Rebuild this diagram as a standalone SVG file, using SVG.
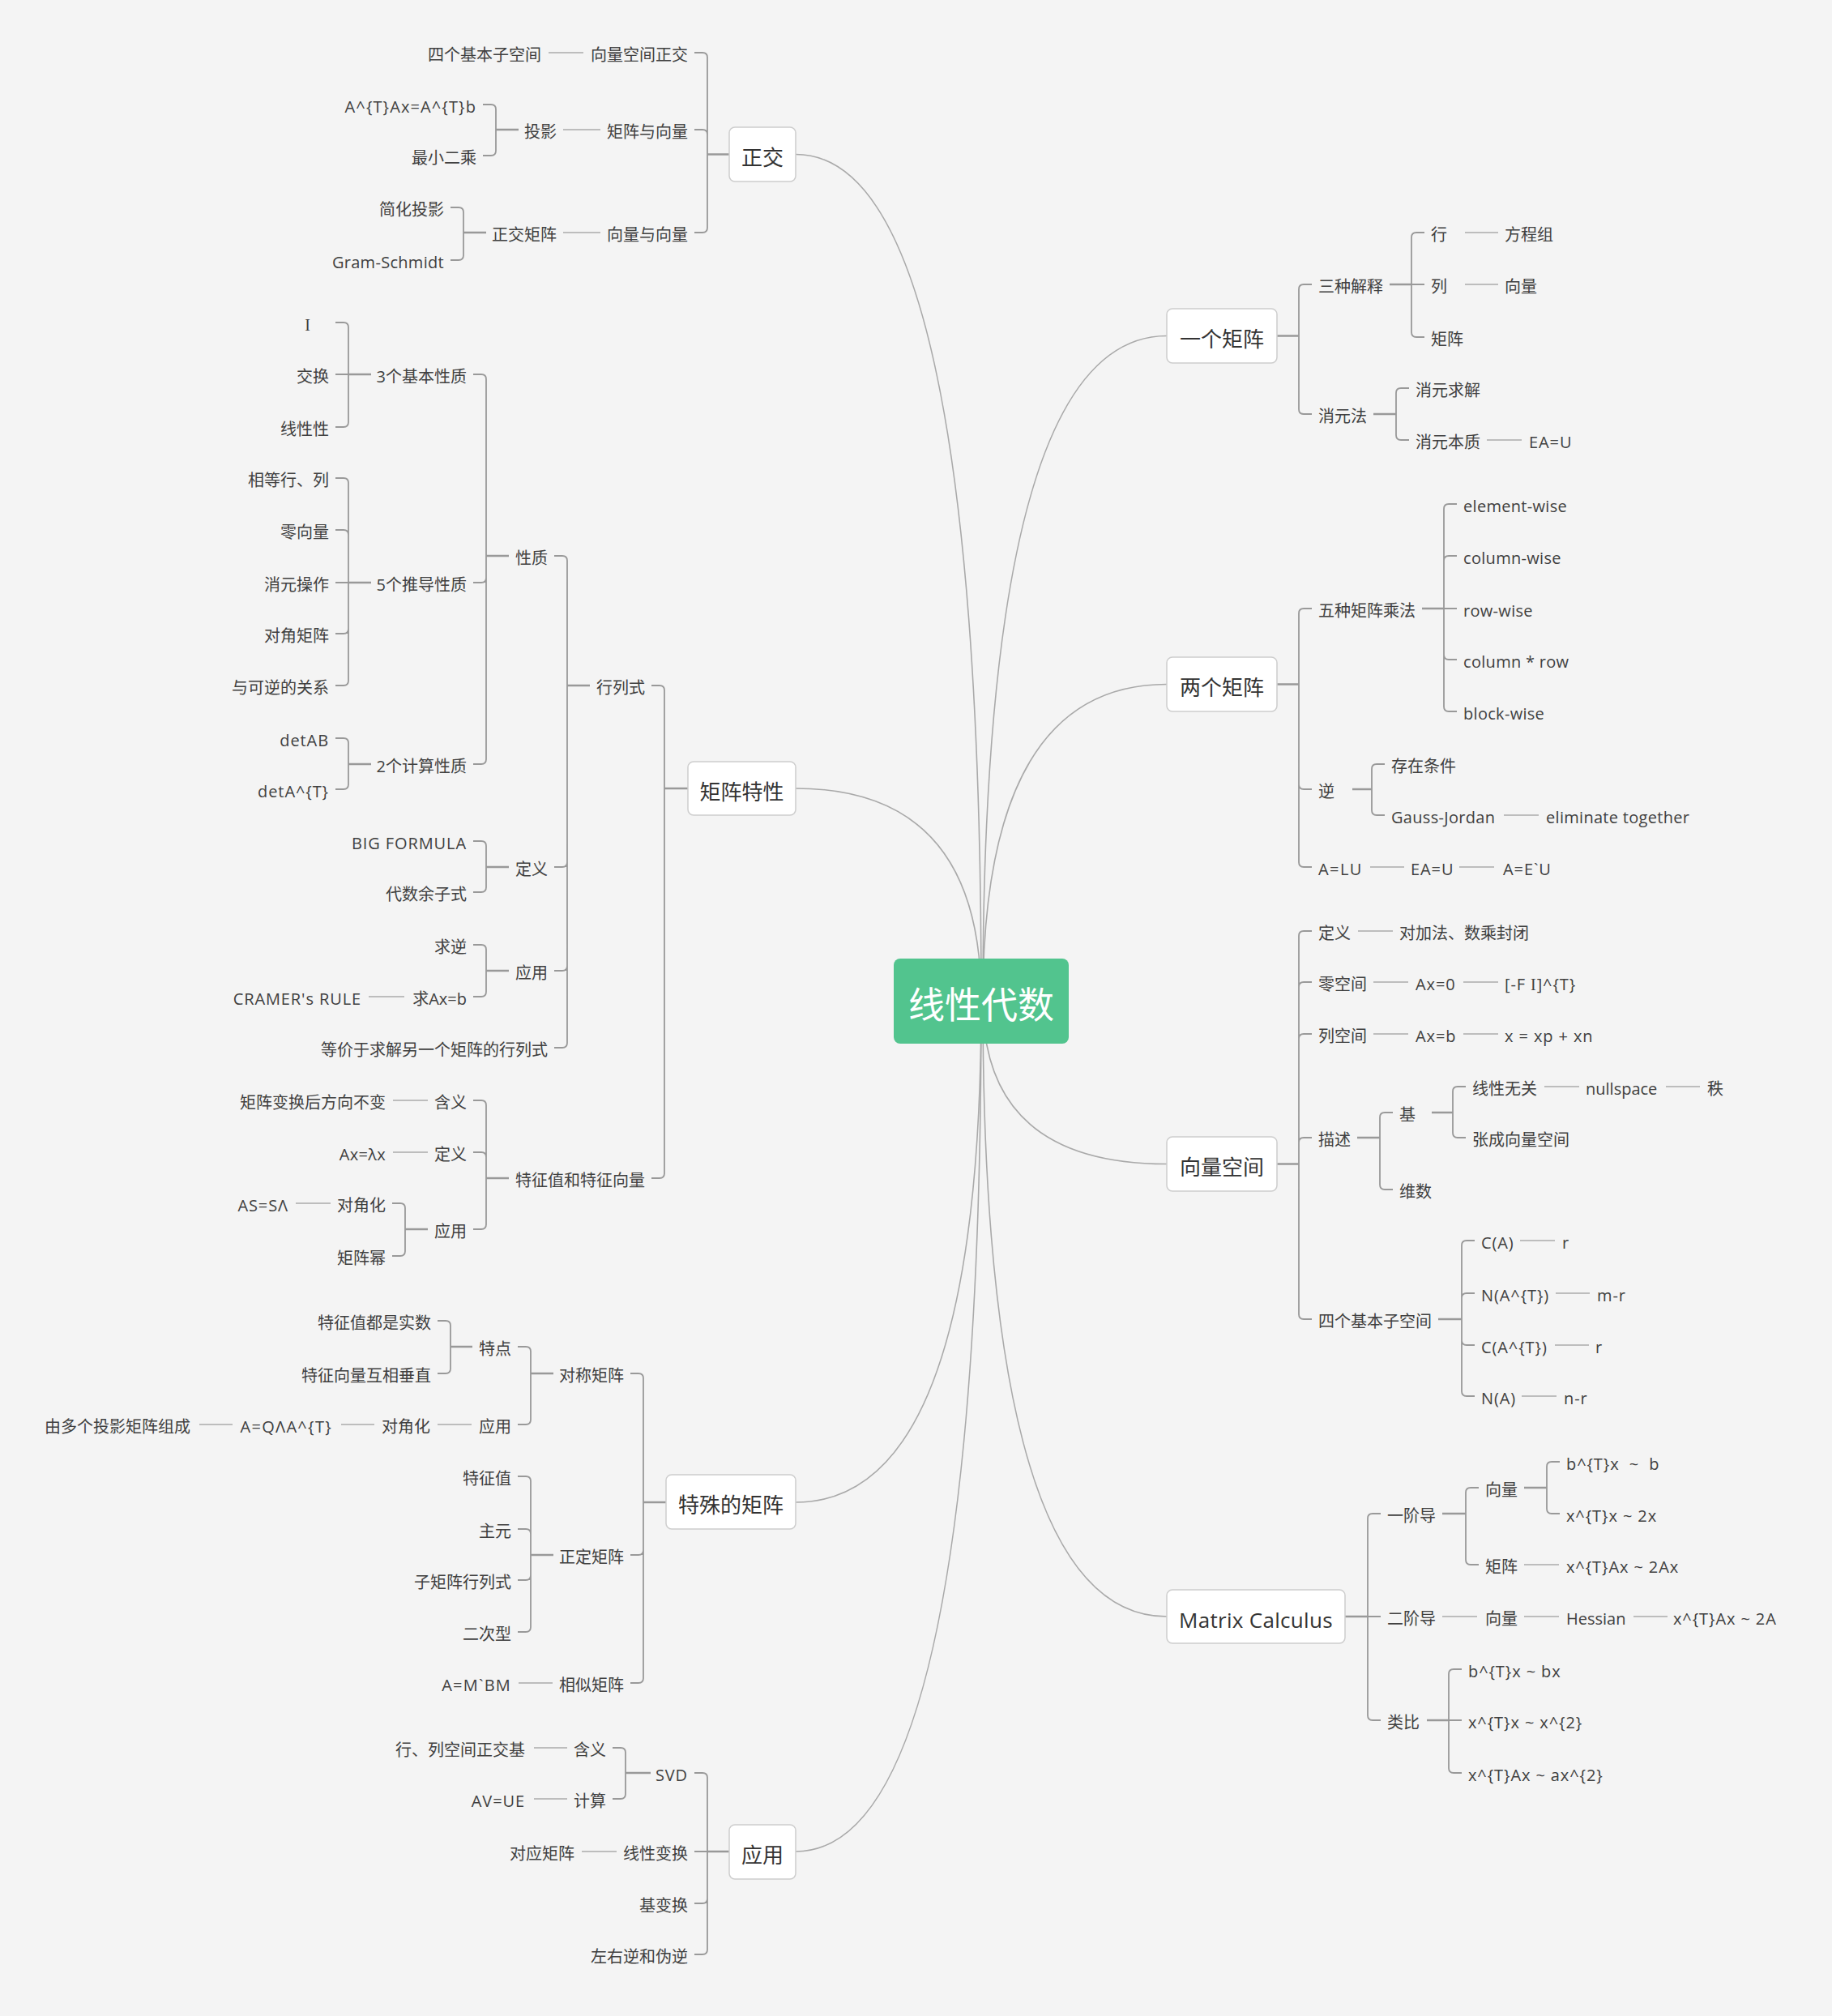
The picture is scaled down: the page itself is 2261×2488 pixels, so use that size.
<svg xmlns="http://www.w3.org/2000/svg" width="2261" height="2488" viewBox="0 0 2261 2488">
<style>
text{font-family:'Open Sans','Noto Sans CJK SC',sans-serif;font-size:20px;fill:#404040}
.l{text-anchor:end}
.f{letter-spacing:0.9px}
.w{letter-spacing:0.3px}
.sf{font-family:'Liberation Serif',serif}
.m{font-size:26px;fill:#333;text-anchor:middle}
.rt{font-family:'Noto Sans CJK SC',sans-serif;font-size:45px;fill:#fff;text-anchor:middle}
.box{fill:#fff;stroke:#cdcdcd;stroke-width:1.5}
.c{fill:none;stroke:#a9a9a9;stroke-width:1.6}
.b{fill:none;stroke:#999;stroke-width:1.8}
.t{fill:none;stroke:#999;stroke-width:2.6}
.s{fill:none;stroke:#aaa;stroke-width:1.5}
</style>
<rect width="2261" height="2488" fill="#f4f4f4"/>
<g id="connectors">
<path class="c" d="M1211 1235Q1211 190.5 982 190.5"/>
<path class="c" d="M1211 1235Q1211 973 982 973"/>
<path class="c" d="M1211 1235Q1211 1854 982 1854"/>
<path class="c" d="M1211 1235Q1211 2285 982 2285"/>
<path class="c" d="M1213 1235Q1213 414.5 1440 414.5"/>
<path class="c" d="M1213 1235Q1213 844.5 1440 844.5"/>
<path class="c" d="M1213 1235Q1213 1436.5 1440 1436.5"/>
<path class="c" d="M1213 1235Q1213 1995 1440 1995"/>
<path class="t" d="M900 190.5H873M640 160H612M600 287H572M849 973H820M728 846H700M628 686H600M458 462H430M458 719H430M458 943H430M628 1070H600M628 1198H600M628 1454H600M528 1517H500M822 1854H794M683 1695H655M583 1662H556M683 1919H655M900 2285H873M803 2188H772"/>
<path class="t" d="M1576 414.5H1603M1715 351H1742M1695 511H1723M1576 844.5H1603M1755 751H1782M1669 974H1693M1576 1436.5H1603M1675 1404H1703M1767 1373H1793M1775 1628H1804M1660 1995H1688M1780 1868H1809M1881 1836H1909M1761 2123H1788"/>
<path class="b" d="M873 190.5V71Q873 65 867 65H857M873 190.5V166Q873 160 867 160H857M873 190.5V281Q873 287 867 287H857
M612 160V135Q612 129 606 129H596M612 160V186Q612 192 606 192H596
M572 287V262Q572 256 566 256H556M572 287V315Q572 321 566 321H556
M820 973V852Q820 846 814 846H804M820 973V1448Q820 1454 814 1454H804
M700 846V692Q700 686 694 686H684M700 846V1064Q700 1070 694 1070H684M700 846V1192Q700 1198 694 1198H684M700 846V1287Q700 1293 694 1293H684
M600 686V468Q600 462 594 462H584M600 686V713Q600 719 594 719H584M600 686V937Q600 943 594 943H584
M430 462V404Q430 398 424 398H414M430 462H414M430 462V521Q430 527 424 527H414
M430 719V596Q430 590 424 590H414M430 719V660Q430 654 424 654H414M430 719H414M430 719V776Q430 782 424 782H414M430 719V840Q430 846 424 846H414
M430 943V917Q430 911 424 911H414M430 943V968Q430 974 424 974H414
M600 1070V1044Q600 1038 594 1038H584M600 1070V1095Q600 1101 594 1101H584
M600 1198V1172Q600 1166 594 1166H584M600 1198V1224Q600 1230 594 1230H584
M600 1454V1364Q600 1358 594 1358H584M600 1454V1428Q600 1422 594 1422H584M600 1454V1511Q600 1517 594 1517H584
M500 1517V1491Q500 1485 494 1485H484M500 1517V1544Q500 1550 494 1550H484
M794 1854V1701Q794 1695 788 1695H778M794 1854V1913Q794 1919 788 1919H778M794 1854V2071Q794 2077 788 2077H778
M655 1695V1668Q655 1662 649 1662H639M655 1695V1752Q655 1758 649 1758H639
M556 1662V1636Q556 1630 550 1630H540M556 1662V1689Q556 1695 550 1695H540
M655 1919V1828Q655 1822 649 1822H639M655 1919V1893Q655 1887 649 1887H639M655 1919V1944Q655 1950 649 1950H639M655 1919V2008Q655 2014 649 2014H639
M873 2285V2194Q873 2188 867 2188H857M873 2285H857M873 2285V2343Q873 2349 867 2349H857M873 2285V2406Q873 2412 867 2412H857
M772 2188V2163Q772 2157 766 2157H756M772 2188V2214Q772 2220 766 2220H756"/>
<path class="b" d="M1603 414.5V357Q1603 351 1609 351H1619M1603 414.5V505Q1603 511 1609 511H1619
M1742 351V293Q1742 287 1748 287H1758M1742 351H1758M1742 351V410Q1742 416 1748 416H1758
M1723 511V485Q1723 479 1729 479H1739M1723 511V537Q1723 543 1729 543H1739
M1603 844.5V757Q1603 751 1609 751H1619M1603 844.5V968Q1603 974 1609 974H1619M1603 844.5V1064Q1603 1070 1609 1070H1619
M1782 751V628Q1782 622 1788 622H1798M1782 751V692Q1782 686 1788 686H1798M1782 751H1798M1782 751V808Q1782 814 1788 814H1798M1782 751V872Q1782 878 1788 878H1798
M1693 974V949Q1693 943 1699 943H1709M1693 974V1000Q1693 1006 1699 1006H1709
M1603 1436.5V1155Q1603 1149 1609 1149H1619M1603 1436.5V1218Q1603 1212 1609 1212H1619M1603 1436.5V1282Q1603 1276 1609 1276H1619M1603 1436.5V1410Q1603 1404 1609 1404H1619M1603 1436.5V1622Q1603 1628 1609 1628H1619
M1703 1404V1379Q1703 1373 1709 1373H1719M1703 1404V1462Q1703 1468 1709 1468H1719
M1793 1373V1347Q1793 1341 1799 1341H1809M1793 1373V1398Q1793 1404 1799 1404H1809
M1804 1628V1537Q1804 1531 1810 1531H1820M1804 1628V1602Q1804 1596 1810 1596H1820M1804 1628V1654Q1804 1660 1810 1660H1820M1804 1628V1717Q1804 1723 1810 1723H1820
M1688 1995V1874Q1688 1868 1694 1868H1704M1688 1995H1704M1688 1995V2117Q1688 2123 1694 2123H1704
M1809 1868V1842Q1809 1836 1815 1836H1825M1809 1868V1925Q1809 1931 1815 1931H1825
M1909 1836V1810Q1909 1804 1915 1804H1925M1909 1836V1862Q1909 1868 1915 1868H1925
M1788 2123V2066Q1788 2060 1794 2060H1804M1788 2123H1804M1788 2123V2182Q1788 2188 1794 2188H1804"/>
<path class="s" d="M677 65H720M741 160H695M741 287H695M499 1230H455M528 1358H485M528 1422H485M408 1485H365M582 1758H540M462 1758H421M287 1758H246M682 2077H640M700 2157H659M700 2220H659M761 2285H718"/>
<path class="s" d="M1808 287H1849M1808 351H1849M1835 543H1878M1856 1006H1899M1691 1070H1733M1801 1070H1844M1676 1149H1719M1695 1212H1738M1806 1212H1849M1695 1276H1738M1806 1276H1849M1906 1341H1949M2056 1341H2098M1876 1531H1919M1920 1596H1962M1919 1660H1961M1878 1723H1921M1881 1931H1924M1780 1995H1823M1881 1995H1924M2016 1995H2058"/>
</g>
<g id="root"><rect x="1103" y="1183" width="216" height="105" rx="8" fill="#52c48e"/><text class="rt" x="1211" y="1257">线性代数</text></g>
<g id="main-zhengjiao"><rect class="box" x="900" y="157" width="82" height="67" rx="7"/><text class="m" x="941" y="204">正交</text></g>
<g id="main-juzhentexing"><rect class="box" x="849" y="940" width="133" height="66" rx="7"/><text class="m" x="915.5" y="986.5">矩阵特性</text></g>
<g id="main-teshu"><rect class="box" x="822" y="1820" width="160" height="67" rx="7"/><text class="m" x="902" y="1867">特殊的矩阵</text></g>
<g id="main-yingyong"><rect class="box" x="900" y="2252" width="82" height="67" rx="7"/><text class="m" x="941" y="2299">应用</text></g>
<g id="main-yige"><rect class="box" x="1440" y="381" width="136" height="67" rx="7"/><text class="m" x="1508" y="428">一个矩阵</text></g>
<g id="main-liangge"><rect class="box" x="1440" y="811" width="136" height="67" rx="7"/><text class="m" x="1508" y="858">两个矩阵</text></g>
<g id="main-xiangliang"><rect class="box" x="1440" y="1403" width="136" height="67" rx="7"/><text class="m" x="1508" y="1450">向量空间</text></g>
<g id="main-calculus"><rect class="box" x="1440" y="1962" width="220" height="66" rx="7"/><text class="m w" x="1550" y="2008.5">Matrix Calculus</text></g>
<g id="left-nodes">
<g id="L1"><text class="l" x="668" y="75">四个基本子空间</text></g>
<g id="L2"><text class="l" x="849" y="75">向量空间正交</text></g>
<g id="L3"><text class="l" x="588" y="139" style="letter-spacing:1.1px">A^{T}Ax=A^{T}b</text></g>
<g id="L4"><text class="l" x="687" y="170">投影</text></g>
<g id="L5"><text class="l" x="849" y="170">矩阵与向量</text></g>
<g id="L6"><text class="l" x="588" y="202">最小二乘</text></g>
<g id="L7"><text class="l" x="548" y="266">简化投影</text></g>
<g id="L8"><text class="l" x="687" y="297">正交矩阵</text></g>
<g id="L9"><text class="l" x="849" y="297">向量与向量</text></g>
<g id="L10"><text class="l w" x="548" y="331">Gram-Schmidt</text></g>
<g id="L11"><text class="l sf" x="383" y="408">I</text></g>
<g id="L12"><text class="l" x="406" y="472">交换</text></g>
<g id="L13"><text class="l" x="576" y="472">3个基本性质</text></g>
<g id="L14"><text class="l" x="406" y="537">线性性</text></g>
<g id="L15"><text class="l" x="406" y="600">相等行、列</text></g>
<g id="L16"><text class="l" x="406" y="664">零向量</text></g>
<g id="L17"><text class="l" x="676" y="696">性质</text></g>
<g id="L18"><text class="l" x="406" y="729">消元操作</text></g>
<g id="L19"><text class="l" x="576" y="729">5个推导性质</text></g>
<g id="L20"><text class="l" x="406" y="792">对角矩阵</text></g>
<g id="L21"><text class="l" x="406" y="856">与可逆的关系</text></g>
<g id="L22"><text class="l" x="796" y="856">行列式</text></g>
<g id="L23"><text class="l f" x="406" y="921">detAB</text></g>
<g id="L24"><text class="l" x="576" y="953">2个计算性质</text></g>
<g id="L25"><text class="l f" x="406" y="984">detA^{T}</text></g>
<g id="L26"><text class="l f" x="576" y="1048">BIG FORMULA</text></g>
<g id="L27"><text class="l" x="676" y="1080">定义</text></g>
<g id="L28"><text class="l" x="576" y="1111">代数余子式</text></g>
<g id="L29"><text class="l" x="576" y="1176">求逆</text></g>
<g id="L30"><text class="l" x="676" y="1208">应用</text></g>
<g id="L31"><text class="l f" x="446" y="1240">CRAMER's RULE</text></g>
<g id="L32"><text class="l" x="576" y="1240">求Ax=b</text></g>
<g id="L33"><text class="l" x="676" y="1303">等价于求解另一个矩阵的行列式</text></g>
<g id="L34"><text class="l" x="476" y="1368">矩阵变换后方向不变</text></g>
<g id="L35"><text class="l" x="576" y="1368">含义</text></g>
<g id="L36"><text class="l w" x="476" y="1432">Ax=λx</text></g>
<g id="L37"><text class="l" x="576" y="1432">定义</text></g>
<g id="L38"><text class="l" x="796" y="1464">特征值和特征向量</text></g>
<g id="L39"><text class="l f" x="356" y="1495">AS=SΛ</text></g>
<g id="L40"><text class="l" x="476" y="1495">对角化</text></g>
<g id="L41"><text class="l" x="576" y="1527">应用</text></g>
<g id="L42"><text class="l" x="476" y="1560">矩阵幂</text></g>
<g id="L43"><text class="l" x="532" y="1640">特征值都是实数</text></g>
<g id="L44"><text class="l" x="631" y="1672">特点</text></g>
<g id="L45"><text class="l" x="532" y="1705">特征向量互相垂直</text></g>
<g id="L46"><text class="l" x="770" y="1705">对称矩阵</text></g>
<g id="L47"><text class="l" x="235" y="1768">由多个投影矩阵组成</text></g>
<g id="L48"><text class="l" x="410" y="1768" style="letter-spacing:1.3px">A=QΛA^{T}</text></g>
<g id="L49"><text class="l" x="531" y="1768">对角化</text></g>
<g id="L50"><text class="l" x="631" y="1768">应用</text></g>
<g id="L51"><text class="l" x="631" y="1832">特征值</text></g>
<g id="L52"><text class="l" x="631" y="1897">主元</text></g>
<g id="L53"><text class="l" x="770" y="1929">正定矩阵</text></g>
<g id="L54"><text class="l" x="631" y="1960">子矩阵行列式</text></g>
<g id="L55"><text class="l" x="631" y="2024">二次型</text></g>
<g id="L56"><text class="l" x="631" y="2087" style="letter-spacing:1.2px">A=M`BM</text></g>
<g id="L57"><text class="l" x="770" y="2087">相似矩阵</text></g>
<g id="L58"><text class="l" x="648" y="2167">行、列空间正交基</text></g>
<g id="L59"><text class="l" x="748" y="2167">含义</text></g>
<g id="L60"><text class="l f" x="849" y="2198">SVD</text></g>
<g id="L61"><text class="l f" x="648" y="2230">AV=UE</text></g>
<g id="L62"><text class="l" x="748" y="2230">计算</text></g>
<g id="L63"><text class="l" x="709" y="2295">对应矩阵</text></g>
<g id="L64"><text class="l" x="849" y="2295">线性变换</text></g>
<g id="L65"><text class="l" x="849" y="2359">基变换</text></g>
<g id="L66"><text class="l" x="849" y="2422">左右逆和伪逆</text></g>
</g>
<g id="right-nodes">
<g id="R1"><text x="1766" y="297">行</text></g>
<g id="R2"><text x="1857" y="297">方程组</text></g>
<g id="R3"><text x="1627" y="361">三种解释</text></g>
<g id="R4"><text x="1766" y="361">列</text></g>
<g id="R5"><text x="1857" y="361">向量</text></g>
<g id="R6"><text x="1766" y="426">矩阵</text></g>
<g id="R7"><text x="1747" y="489">消元求解</text></g>
<g id="R8"><text x="1627" y="521">消元法</text></g>
<g id="R9"><text x="1747" y="553">消元本质</text></g>
<g id="R10"><text class="f" x="1887" y="553">EA=U</text></g>
<g id="R11"><text class="w" x="1806" y="632">element-wise</text></g>
<g id="R12"><text class="w" x="1806" y="696">column-wise</text></g>
<g id="R13"><text x="1627" y="761">五种矩阵乘法</text></g>
<g id="R14"><text class="w" x="1806" y="761">row-wise</text></g>
<g id="R15"><text class="w" x="1806" y="824">column * row</text></g>
<g id="R16"><text class="w" x="1806" y="888">block-wise</text></g>
<g id="R17"><text x="1717" y="953">存在条件</text></g>
<g id="R18"><text x="1627" y="984">逆</text></g>
<g id="R19"><text class="w" x="1717" y="1016">Gauss-Jordan</text></g>
<g id="R20"><text class="w" x="1908" y="1016">eliminate together</text></g>
<g id="R21"><text x="1627" y="1080" style="letter-spacing:1.4px">A=LU</text></g>
<g id="R22"><text class="f" x="1741" y="1080">EA=U</text></g>
<g id="R23"><text class="f" x="1855" y="1080">A=E`U</text></g>
<g id="R24"><text x="1627" y="1159">定义</text></g>
<g id="R25"><text x="1727" y="1159">对加法、数乘封闭</text></g>
<g id="R26"><text x="1627" y="1222">零空间</text></g>
<g id="R27"><text class="f" x="1747" y="1222">Ax=0</text></g>
<g id="R28"><text class="f" x="1857" y="1222">[-F <tspan class="sf">I</tspan>]^{T}</text></g>
<g id="R29"><text x="1627" y="1286">列空间</text></g>
<g id="R30"><text class="f" x="1747" y="1286">Ax=b</text></g>
<g id="R31"><text class="f" x="1857" y="1286">x = xp + xn</text></g>
<g id="R32"><text x="1817" y="1351">线性无关</text></g>
<g id="R33"><text x="1957" y="1351">nullspace</text></g>
<g id="R34"><text x="2107" y="1351">秩</text></g>
<g id="R35"><text x="1727" y="1383">基</text></g>
<g id="R36"><text x="1627" y="1414">描述</text></g>
<g id="R37"><text x="1817" y="1414">张成向量空间</text></g>
<g id="R38"><text x="1727" y="1478">维数</text></g>
<g id="R39"><text class="f" x="1828" y="1541">C(A)</text></g>
<g id="R40"><text x="1928" y="1541">r</text></g>
<g id="R41"><text class="f" x="1828" y="1606">N(A^{T})</text></g>
<g id="R42"><text class="f" x="1971" y="1606">m-r</text></g>
<g id="R43"><text x="1627" y="1638">四个基本子空间</text></g>
<g id="R44"><text class="f" x="1828" y="1670">C(A^{T})</text></g>
<g id="R45"><text x="1969" y="1670">r</text></g>
<g id="R46"><text class="f" x="1828" y="1733">N(A)</text></g>
<g id="R47"><text class="f" x="1930" y="1733">n-r</text></g>
<g id="R48"><text class="f" x="1933" y="1814" style="white-space:pre">b^{T}x  ~  b</text></g>
<g id="R49"><text x="1833" y="1846">向量</text></g>
<g id="R50"><text x="1712" y="1878">一阶导</text></g>
<g id="R51"><text class="f" x="1933" y="1878">x^{T}x ~ 2x</text></g>
<g id="R52"><text x="1833" y="1941">矩阵</text></g>
<g id="R53"><text class="f" x="1933" y="1941">x^{T}Ax ~ 2Ax</text></g>
<g id="R54"><text x="1712" y="2005">二阶导</text></g>
<g id="R55"><text x="1833" y="2005">向量</text></g>
<g id="R56"><text x="1933" y="2005">Hessian</text></g>
<g id="R57"><text class="f" x="2065" y="2005">x^{T}Ax ~ 2A</text></g>
<g id="R58"><text class="f" x="1812" y="2070">b^{T}x ~ bx</text></g>
<g id="R59"><text x="1712" y="2133">类比</text></g>
<g id="R60"><text class="f" x="1812" y="2133">x^{T}x ~ x^{2}</text></g>
<g id="R61"><text class="f" x="1812" y="2198">x^{T}Ax ~ ax^{2}</text></g>
</g>
</svg>
